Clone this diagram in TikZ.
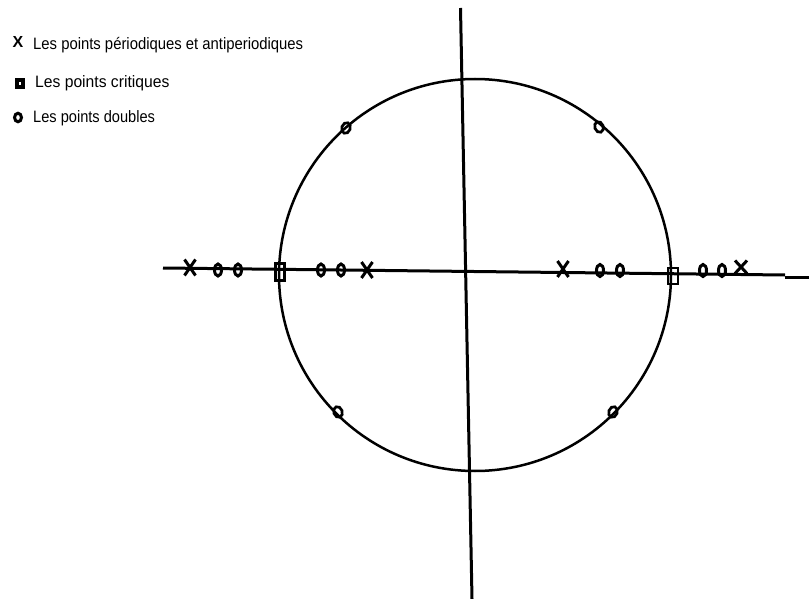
\documentclass[tikz,border=0pt]{standalone}
\usepackage{fontspec}
\setmainfont{Liberation Sans}
\newfontfamily\legA[FakeStretch=0.9]{Liberation Sans}
\newfontfamily\legB[FakeStretch=0.95]{Liberation Sans}
\newfontfamily\legC[FakeStretch=0.885]{Liberation Sans}
\usetikzlibrary{shapes.geometric,shapes.misc}
\tikzset{
  axisline/.style={line width=3pt, line cap=butt},
  circleline/.style={line width=2.5pt},
  omark/.style={ellipse, draw, line width=3pt, inner sep=0pt, minimum width=7pt, minimum height=12pt},
  comark/.style={ellipse, draw, line width=2.7pt, inner sep=0pt, minimum width=8.5pt, minimum height=11pt},
  xmark/.style={cross out, draw, line width=3pt, inner sep=0pt, minimum width=8pt, minimum height=13pt},
  sqmark/.style={rectangle, draw, line width=2.8pt, inner sep=0pt, minimum width=9pt, minimum height=17pt},
  legtext/.style={anchor=base west, inner sep=0pt, text=black}
}
\begin{document}
\begin{tikzpicture}[x=1pt,y=-1pt]
\useasboundingbox (0,0) rectangle (809,599);
% axes
\coordinate (hl) at (163,268);
\coordinate (hm) at (785,275);
\coordinate (hm2) at (785,277);
\coordinate (hr) at (809,277);
\coordinate (vt) at (460.5,8);
\coordinate (vb) at (472,599);
\draw[axisline] (hl) -- (hm);
\draw[axisline] (hm2) -- (hr);
\draw[axisline] (vt) -- (vb);
% circle
\node[circle, draw, circleline, minimum size=392pt, inner sep=0pt] (C) at (475,275) {};
% left axis markers
\node[xmark] (x1) at (190,267.5) {};
\node[omark] (o1) at (218,270) {};
\node[omark] (o2) at (238,270) {};
\node[sqmark, line width=3.2pt] (s1) at (280,272) {};
\node[omark] (o3) at (321,270) {};
\node[omark] (o4) at (341,270) {};
\node[xmark] (x2) at (367,270) {};
% right axis markers
\node[xmark] (x3) at (563,269) {};
\node[omark] (o5) at (600,270.5) {};
\node[omark] (o6) at (620,270.5) {};
\node[sqmark, line width=2.4pt, minimum width=9.5pt, minimum height=16pt] (s2) at (673,276) {};
\node[omark] (o7) at (703,270.5) {};
\node[omark] (o8) at (722,270.5) {};
\node[xmark, minimum width=9pt, minimum height=10pt] (x4) at (741,267) {};
% circle markers
\node[comark, rotate=-20] (c1) at (346,128) {};
\node[comark, rotate=20] (c2) at (599,127) {};
\node[comark, rotate=20] (c3) at (338,412) {};
\node[comark, rotate=-20] (c4) at (613,412) {};
% legend
\node[inner sep=0pt] (lx) at (18,42) {\fontsize{16}{16}\selectfont\bfseries X};
\node[rectangle, draw, fill=white, line width=4pt, inner sep=0pt, minimum width=6.5pt, minimum height=7.5pt] (ls) at (20,83.5) {};
\node[ellipse, draw, line width=3pt, inner sep=0pt, minimum width=7pt, minimum height=8.5pt] (lo) at (18,117.5) {};
\node[legtext] (t1) at (33,50) {\legA\fontsize{16.5}{17}\selectfont Les points périodiques et antiperiodiques};
\node[legtext] (t2) at (35,88) {\legB\fontsize{16.5}{17}\selectfont Les points critiques};
\node[legtext] (t3) at (33,123) {\legC\fontsize{16.5}{17}\selectfont Les points doubles};
\end{tikzpicture}
\end{document}
